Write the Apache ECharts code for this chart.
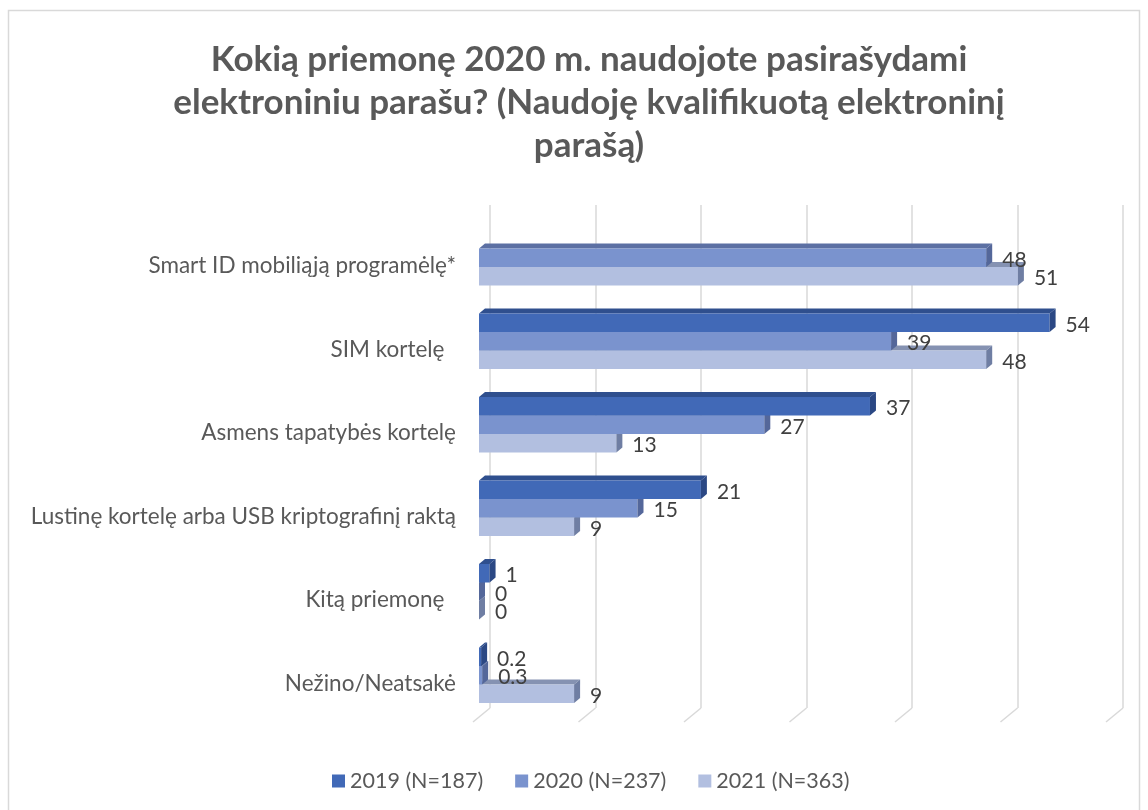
<!DOCTYPE html>
<html>
<head>
<meta charset="utf-8">
<script src="https://cdn.jsdelivr.net/npm/echarts@6/dist/echarts.min.js"></script>
<style>
  html, body { margin: 0; padding: 0; background: #fff; }
  #chart { width: 1148px; height: 810px; }
</style>
</head>
<body>
<div id="chart"></div>
<script>
// data
const categories = [
  'Smart ID mobiliąją programėlę*',
  'SIM kortelę  ',
  'Asmens tapatybės kortelę',
  'Lustinę kortelę arba USB kriptografinį raktą',
  'Kitą priemonę  ',
  'Nežino/Neatsakė'
]
const seriesNames = ['2019 (N=187)', '2020 (N=237)', '2021 (N=363)']
const values2019 = [null, 54, 37, 21, 1, 0.2]
const values2020 = [48, 39, 27, 15, 0, 0.3]
const values2021 = [51, 48, 13, 9, 0, 9]
const gridTicks = [0, 10, 20, 30, 40, 50, 60]

const titleText = 'Kokią priemonę 2020 m. naudojote pasirašydami\nelektroniniu parašu? (Naudoję kvalifikuotą elektroninį\nparašą)'

// front / top / side shades per year
const shades = [
  { front: '#4169b7', top: '#2f4f8e', side: '#2b4884' },
  { front: '#7a93ce', top: '#5c70a3', side: '#54679a' },
  { front: '#b2bfe0', top: '#8592b2', side: '#6f7ea3' }
]

const FONT = 'Lato, "Open Sans", sans-serif'

function barRenderer(slot, c) {
  return function (params, api) {
    const val = api.value(0)
    const cat = api.value(1)
    if (val == null || isNaN(val)) return
    const base = api.coord([0, cat])
    const end = api.coord([val, cat])
    const band = api.size([0, 1])[1]
    const h = band * 18.5 / 83.5
    const yTop = base[1] + (slot - 1.5) * h
    const yBot = yTop + h
    const x0 = base[0]
    const x1 = end[0]
    const dx = 6, dy = 5
    return {
      type: 'group',
      children: [
        { type: 'polygon', shape: { points: [[x0, yTop], [x1, yTop], [x1 + dx, yTop - dy], [x0 + dx, yTop - dy]] }, style: { fill: c.top } },
        { type: 'rect', shape: { x: x0, y: yTop, width: x1 - x0, height: h }, style: { fill: c.front } },
        { type: 'polygon', shape: { points: [[x1, yTop], [x1 + dx, yTop - dy], [x1 + dx, yBot - dy], [x1, yBot]] }, style: { fill: c.side } },
        { type: 'text', z2: 10, style: { text: String(val), x: x1 + 16, y: (yTop + yBot) / 2 + 2, fill: '#404040', font: '21px ' + FONT, verticalAlign: 'middle', align: 'left' } }
      ]
    }
  }
}

function floorRenderer(params, api) {
  const p = api.coord([api.value(0), 0])
  return {
    type: 'line',
    shape: { x1: p[0], y1: p[1], x2: p[0] - 17, y2: p[1] + 14 },
    style: { stroke: '#d9d9d9', lineWidth: 1.5 }
  }
}

const yearValues = [values2019, values2020, values2021]

const chart = echarts.init(document.getElementById('chart'))
chart.setOption({
  animation: false,
  title: {
    text: titleText,
    left: 589,
    top: 38,
    textAlign: 'center',
    padding: 0,
    textStyle: { fontFamily: FONT, fontWeight: 'bold', fontSize: 35, lineHeight: 43, color: '#595959' }
  },
  graphic: [{
    type: 'rect',
    shape: { x: 8.5, y: 10.5, width: 1131, height: 830 },
    style: { fill: 'none', stroke: '#d9d9d9', lineWidth: 1.5 },
    silent: true
  }],
  legend: {
    data: seriesNames,
    left: 332,
    top: 770,
    padding: 0,
    icon: 'rect',
    itemWidth: 13,
    itemHeight: 13,
    itemGap: 32,
    textStyle: { fontFamily: FONT, fontSize: 21.5, color: '#595959' }
  },
  grid: [
    { left: 490, top: 205, width: 633, height: 503 },
    { left: 479, top: 216, width: 634, height: 501 },
    { left: 479, top: 224, width: 634, height: 501 }
  ],
  xAxis: [
    {
      gridIndex: 0, type: 'value', min: 0, max: 60, interval: 10,
      axisLine: { show: false }, axisTick: { show: false }, axisLabel: { show: false },
      splitLine: { show: true, lineStyle: { color: '#d9d9d9', width: 1.5 } }
    },
    { gridIndex: 1, type: 'value', min: 0, max: 60, show: false },
    { gridIndex: 2, type: 'value', min: 0, max: 60, show: false }
  ],
  yAxis: [
    { gridIndex: 0, type: 'value', min: 0, max: 1, show: false },
    { gridIndex: 1, type: 'category', data: categories, inverse: true, show: false },
    {
      gridIndex: 2, type: 'category', data: categories, inverse: true,
      axisLine: { show: false }, axisTick: { show: false },
      axisLabel: { margin: 23, fontFamily: FONT, fontSize: 22.5, color: '#595959' }
    }
  ],
  series: [
    {
      type: 'custom',
      xAxisIndex: 0, yAxisIndex: 0,
      silent: true,
      z: 1,
      renderItem: floorRenderer,
      data: gridTicks.map(v => [v, 0])
    }
  ].concat(seriesNames.map((name, i) => ({
    name: name,
    type: 'custom',
    xAxisIndex: 1, yAxisIndex: 1,
    z: 5 - i,
    itemStyle: { color: shades[i].front },
    renderItem: barRenderer(i, shades[i]),
    encode: { x: 0, y: 1 },
    data: yearValues[i].map((v, k) => [v, k])
  })))
})
</script>
</body>
</html>
